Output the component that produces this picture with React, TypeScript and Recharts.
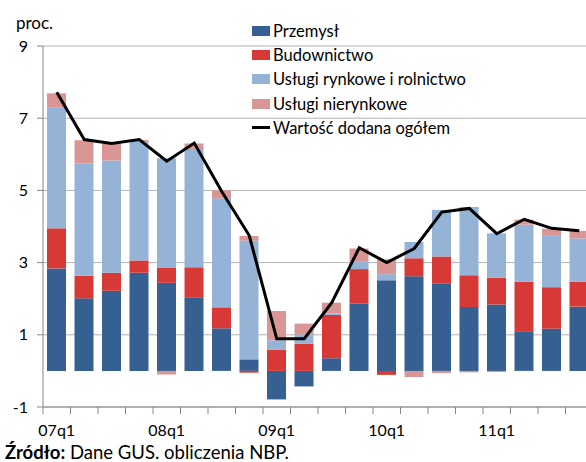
import { Bar, CartesianGrid, ComposedChart, Line, XAxis, YAxis } from 'recharts';

const quarters = ['07q1', '07q2', '07q3', '07q4', '08q1', '08q2', '08q3', '08q4', '09q1', '09q2',
  '09q3', '09q4', '10q1', '10q2', '10q3', '10q4', '11q1', '11q2', '11q3', '11q4'];
const przemysl = [2.84, 2.01, 2.22, 2.72, 2.44, 2.04, 1.18, 0.32, -0.79, -0.43, 0.35, 1.86, 2.51, 2.62, 2.43, 1.77, 1.84, 1.10, 1.17, 1.78];
const budownictwo = [1.11, 0.63, 0.50, 0.34, 0.41, 0.83, 0.58, -0.05, 0.59, 0.75, 1.20, 0.96, -0.11, 0.50, 0.74, 0.88, 0.74, 1.37, 1.15, 0.69];
const rynkowe = [3.35, 3.10, 3.11, 3.31, 3.04, 3.25, 3.02, 3.29, 0.26, 0.26, 0.04, 0.22, 0.17, 0.45, 1.29, 1.89, 1.23, 1.58, 1.42, 1.20];
const nierynkowe = [0.39, 0.65, 0.46, 0.03, -0.10, 0.18, 0.22, 0.13, 0.81, 0.30, 0.30, 0.35, 0.41, -0.17, -0.06, -0.04, -0.03, 0.14, 0.20, 0.21];
const ogolem = [7.72, 6.41, 6.30, 6.41, 5.81, 6.31, 4.97, 3.75, 0.89, 0.89, 1.89, 3.41, 3.00, 3.39, 4.40, 4.50, 3.80, 4.20, 3.95, 3.88];
const yTicks = [-1, 1, 3, 5, 7, 9];

const series = [
  { key: 'przemysl', name: 'Przemysł', color: '#376092' },
  { key: 'budownictwo', name: 'Budownictwo', color: '#d73a36' },
  { key: 'rynkowe', name: 'Usługi rynkowe i rolnictwo', color: '#95b3d7' },
  { key: 'nierynkowe', name: 'Usługi nierynkowe', color: '#da9694' },
];

const data = quarters.map((q, i) => ({
  q,
  przemysl: przemysl[i],
  budownictwo: budownictwo[i],
  rynkowe: rynkowe[i],
  nierynkowe: nierynkowe[i],
  ogolem: ogolem[i],
}));

const FONT = 'Lato, "Open Sans", sans-serif';
const HALF_BAND = 13.75;

const XTick = (props: any) => {
  const { x, y, payload, index } = props;
  return (
    <g>
      <line x1={x - HALF_BAND} x2={x - HALF_BAND} y1={y} y2={y + 7} stroke="#868686" />
      {index % 4 === 0 && (
        <text x={x} y={y + 29} textAnchor="middle" fontSize={16} fontFamily={FONT} fill="#000">
          {payload.value}
        </text>
      )}
    </g>
  );
};

const LegendBox = () => (
  <div style={{ position: 'absolute', left: 252, top: 19, fontFamily: FONT, fontSize: 16.5, color: '#000' }}>
    {series.map((s) => (
      <div key={s.key} style={{ display: 'flex', alignItems: 'center', height: 24.2 }}>
        <span style={{ display: 'inline-block', width: 18, height: 10, background: s.color, marginRight: 3 }} />
        {s.name}
      </div>
    ))}
    <div style={{ display: 'flex', alignItems: 'center', height: 24.2 }}>
      <span style={{ display: 'inline-block', width: 18, height: 3, background: '#000', marginRight: 3 }} />
      Wartość dodana ogółem
    </div>
  </div>
);

export default function App() {
  return (
    <div style={{ position: 'absolute', left: 0, top: 0, width: 586, height: 462, overflow: 'hidden', background: '#fff' }}>
      <ComposedChart
        width={600}
        height={462}
        data={data}
        stackOffset="sign"
        barSize={19}
        margin={{ top: 46, right: 7, bottom: 24, left: 0 }}
      >
        <CartesianGrid vertical={false} stroke="#b3b3b3" />
        <XAxis
          dataKey="q"
          interval={0}
          tickSize={0}
          tickMargin={0}
          tick={<XTick />}
          height={31}
          stroke="#868686"
        />
        <YAxis
          domain={[-1, 9]}
          ticks={yTicks}
          width={43}
          tickSize={6}
          tickMargin={9}
          stroke="#868686"
          tick={{ fontSize: 16, fontFamily: FONT, fill: '#000' }}
        />
        {series.map((s) => (
          <Bar key={s.key} dataKey={s.key} name={s.name} stackId="a" fill={s.color} isAnimationActive={false} />
        ))}
        <Line
          dataKey="ogolem"
          name="Wartość dodana ogółem"
          type="linear"
          stroke="#000"
          strokeWidth={3}
          dot={false}
          isAnimationActive={false}
        />
      </ComposedChart>
      <div style={{ position: 'absolute', left: 16, top: 13, fontFamily: FONT, fontSize: 17, lineHeight: 1.2 }}>proc.</div>
      <LegendBox />
      <div style={{ position: 'absolute', left: 5, top: 441, fontFamily: FONT, fontSize: 18.5, lineHeight: 1.2, whiteSpace: 'nowrap' }}>
        <b>Źródło:</b> Dane GUS. obliczenia NBP.
      </div>
    </div>
  );
}
